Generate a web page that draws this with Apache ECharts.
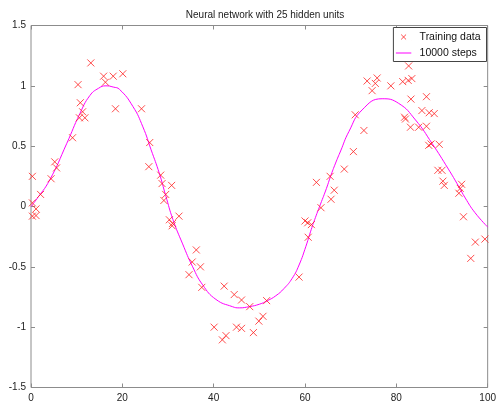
<!DOCTYPE html>
<html><head><meta charset="utf-8">
<script src="https://cdn.jsdelivr.net/npm/echarts@6/dist/echarts.min.js"></script>
<style>html,body{margin:0;padding:0;background:#fff}#c{width:499px;height:404px}</style>
</head><body><div id="c"></div>
<script>
const titleText = 'Neural network with 25 hidden units';
const trainX = [0.3,0.3,1.1,0.3,1.1,2.1,4.4,5.2,5.6,9.1,10.3,10.8,11.3,10.6,11.8,13.1,15.9,16.3,18.0,18.5,20.1,24.2,26.0,25.8,28.4,28.7,30.8,29.5,29.1,32.4,30.3,31.0,30.9,36.2,35.3,37.1,34.6,37.4,42.3,44.5,46.1,47.9,51.6,50.8,49.9,48.7,40.1,42.7,41.9,45.0,46.1,58.7,60.7,60.0,60.6,61.4,63.5,65.7,66.4,62.5,65.5,68.6,70.6,71.0,72.9,73.6,75.8,75.4,74.7,78.8,81.4,82.6,83.4,82.7,83.2,86.6,81.8,82.0,83.1,84.9,86.6,85.6,87.2,88.3,87.1,87.6,89.4,89.1,90.0,90.2,90.5,94.3,94.0,93.7,94.7,97.3,99.4,96.3];
const trainY = [0.25,0.03,-0.02,-0.08,-0.075,0.10,0.23,0.37,0.32,0.57,1.01,0.86,0.785,0.735,0.735,1.19,1.08,1.03,1.08,0.81,1.10,0.81,0.53,0.33,0.26,0.19,0.175,0.10,0.05,-0.08,-0.11,-0.14,-0.16,-0.36,-0.46,-0.50,-0.565,-0.67,-0.66,-0.73,-0.775,-0.83,-0.78,-0.91,-0.95,-1.045,-1.00,-1.07,-1.105,-1.00,-1.01,-0.585,-0.255,-0.12,-0.135,-0.15,-0.01,0.06,0.135,0.20,0.25,0.31,0.455,0.76,0.63,1.04,1.065,1.02,0.96,1.00,1.035,1.045,1.06,1.165,0.89,0.91,0.74,0.725,0.657,0.657,0.665,0.795,0.777,0.77,0.507,0.518,0.515,0.30,0.30,0.21,0.175,0.184,0.15,0.11,-0.085,-0.295,-0.27,-0.43];
const fitX = [0,1.1,4.1,7.8,10.7,12.9,14.8,16.4,18.0,19.4,22.3,24.5,26.3,28.1,29.5,31.1,33.2,35.4,37.6,40.5,44.1,45.6,47.8,50.0,51.8,53.6,55.4,57.2,58.7,60.2,61.2,62.3,63.4,64.7,65.6,66.7,67.8,69.6,72.5,76.9,80.5,84.2,87.8,91.4,93.6,95.1,97.2,100];
const fitY = [0.0,0.054,0.22,0.52,0.77,0.92,0.98,1.0,0.99,0.97,0.83,0.66,0.47,0.275,0.09,-0.11,-0.31,-0.50,-0.65,-0.77,-0.83,-0.84,-0.83,-0.81,-0.78,-0.74,-0.68,-0.595,-0.485,-0.33,-0.21,-0.09,0.02,0.15,0.25,0.36,0.46,0.62,0.80,0.893,0.855,0.717,0.524,0.31,0.17,0.07,-0.05,-0.17];
const seriesNames = ['Training data','10000 steps'];
const xRange = [0,100,20];
const yRange = [-1.5,1.5,0.5];

const font = 'Liberation Sans, Arial, sans-serif';
const axisGray = '#8c8c8c';
const crossPath = 'path://M0,0L10,10M10,0L0,10';
const chart = echarts.init(document.getElementById('c'), null, {renderer:'canvas'});
const hiddenAxis = {show:true, axisLine:{show:false, onZero:false}, axisLabel:{show:false}, splitLine:{show:false},
  axisTick:{show:true, inside:true, length:4, lineStyle:{color:axisGray}}};
chart.setOption({
  animation:false,
  backgroundColor:'#fff',
  title:{text:titleText, left:260, textAlign:'center', top:5, textStyle:{fontFamily:font, fontSize:10, fontWeight:'normal', color:'#222'}},
  grid:{left:31, right:10, top:25.5, bottom:16.5, show:true, borderColor:axisGray, borderWidth:1, backgroundColor:'#fff'},
  legend:{orient:'vertical', right:12.5, top:27.5, padding:[4,6,3,2], itemGap:5, itemWidth:22, itemHeight:7,
    borderColor:'#444', borderWidth:1, backgroundColor:'#fff', borderRadius:0,
    textStyle:{fontFamily:font, fontSize:10.5, color:'#111'},
    data:[{name:seriesNames[0], icon:'path://M0,0L0.01,0M7.5,1.5L14.5,8.5M14.5,1.5L7.5,8.5M22,10L21.99,10',
            itemStyle:{color:'rgba(255,0,0,0)', borderColor:'#ff2020', borderWidth:1}},
          {name:seriesNames[1], icon:'path://M0,0L0.01,0M0,4.3L22,4.3L22,5.7L0,5.7ZM0,10L0.01,10', itemStyle:{color:'#ff00ff', borderWidth:0}}]},
  xAxis:[{type:'value', min:xRange[0], max:xRange[1], interval:xRange[2], position:'bottom',
      axisLine:{show:false, onZero:false}, splitLine:{show:false},
      axisTick:{inside:true, length:4, lineStyle:{color:axisGray}},
      axisLabel:{margin:6, fontFamily:font, fontSize:10, color:'#222'}},
    Object.assign({type:'value', min:xRange[0], max:xRange[1], interval:xRange[2], position:'top'}, hiddenAxis)],
  yAxis:[{type:'value', min:yRange[0], max:yRange[1], interval:yRange[2], position:'left',
      axisLine:{show:false, onZero:false}, splitLine:{show:false},
      axisTick:{inside:true, length:4, lineStyle:{color:axisGray}},
      axisLabel:{margin:5, fontFamily:font, fontSize:10, color:'#222'}},
    Object.assign({type:'value', min:yRange[0], max:yRange[1], interval:yRange[2], position:'right'}, hiddenAxis)],
  series:[
    {name:seriesNames[0], type:'scatter', symbol:crossPath, symbolSize:7,
      itemStyle:{color:'rgba(255,0,0,0)', borderColor:'#ff2020', borderWidth:1},
      data:trainX.map((x,i)=>[x,trainY[i]]), z:3},
    {name:seriesNames[1], type:'line', symbol:'none', smooth:0.5,
      lineStyle:{color:'#ff00ff', width:1}, itemStyle:{color:'#ff00ff'},
      data:fitX.map((x,i)=>[x,fitY[i]]), z:2}
  ]
});
</script></body></html>
